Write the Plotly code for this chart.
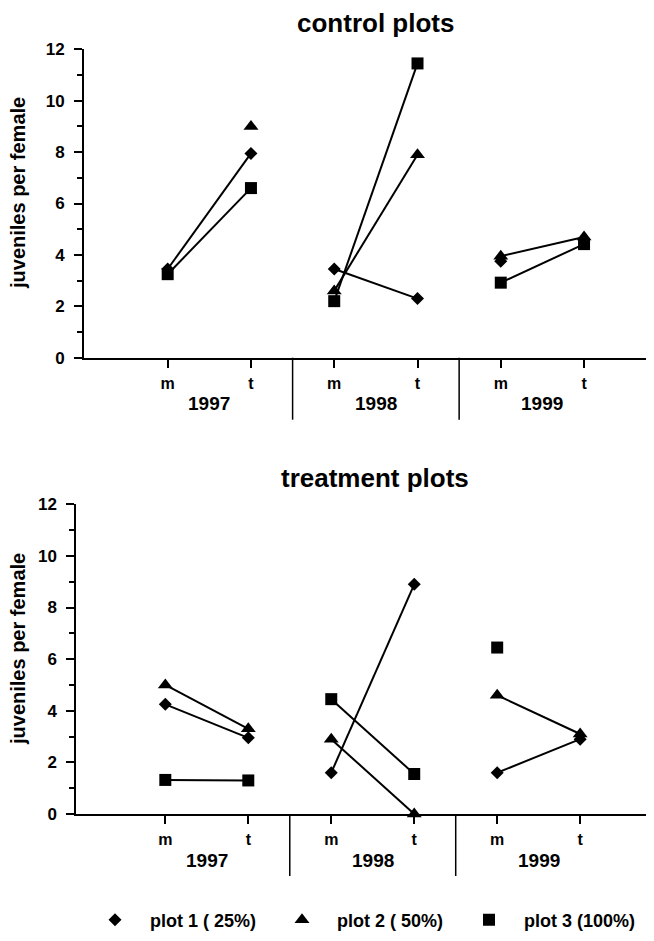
import plotly.graph_objects as go

# ---- data ----
stages = ["m", "t", "m", "t", "m", "t"]
years = ["1997", "1998", "1999"]
series_names = ["plot 1 ( 25%)", "plot 2 ( 50%)", "plot 3 (100%)"]

control_plot1 = [3.45, 7.95, 3.45, 2.3, 3.75, None]
control_plot2 = [None, 9.0, 2.6, 7.9, 3.95, 4.7]
control_plot3 = [3.25, 6.6, 2.2, 11.45, 2.92, 4.42]

treatment_plot1 = [4.25, 2.95, 1.6, 8.9, 1.6, 2.9]
treatment_plot2 = [5.0, 3.3, 2.9, 0.0, 4.6, 3.1]
treatment_plot3 = [1.32, 1.3, 4.45, 1.55, 6.45, None]

# ---- styling ----
FONT = "Liberation Sans, Arial, Helvetica, sans-serif"
symbols = ["diamond", "triangle-up", "square"]
msizes = [10, 13, 12]
OFF = 8                      # page body margin
W, H = 654 - OFF, 941 - OFF  # figure size so it fills the window
positions = list(range(1, len(stages) + 1))


def with_gaps(vals):
    xs, ys = [], []
    for i in range(0, len(vals), 2):
        xs += [positions[i], positions[i + 1], None]
        ys += [vals[i], vals[i + 1], None]
    return xs, ys


def px_x(p):
    return (p - OFF) / W


def px_y(p):
    return 1 - (p - OFF) / H


fig = go.Figure()
charts = [
    ("x", "y", [control_plot1, control_plot2, control_plot3], True),
    ("x2", "y2", [treatment_plot1, treatment_plot2, treatment_plot3], False),
]
for xa, ya, data, show in charts:
    for k, vals in enumerate(data):
        xs, ys = with_gaps(vals)
        fig.add_trace(go.Scatter(
            x=xs, y=ys, xaxis=xa, yaxis=ya, mode="lines",
            line=dict(color="black", width=2), showlegend=False,
            hoverinfo="skip", cliponaxis=False))
    for k, vals in enumerate(data):
        fig.add_trace(go.Scatter(
            x=positions, y=vals, xaxis=xa, yaxis=ya, mode="markers",
            marker=dict(symbol=symbols[k], size=msizes[k], color="black"),
            name="\u00a0\u00a0\u00a0" + series_names[k], legendgroup=series_names[k],
            showlegend=show, cliponaxis=False))


def xaxis_cfg(x0px, rng):
    return dict(
        domain=[px_x(x0px), 1], range=rng, tickvals=positions, ticktext=stages,
        ticks="outside", ticklen=8, tickwidth=2, tickcolor="black",
        showline=True, linewidth=2, linecolor="black", showgrid=False,
        zeroline=False, ticklabelstandoff=2, automargin=False,
        tickfont=dict(family=FONT, size=16, color="black", weight="bold"))


def yaxis_cfg(top_px, bot_px):
    return dict(
        domain=[px_y(bot_px), px_y(top_px)], range=[0, 12], tick0=0, dtick=2,
        ticks="outside", ticklen=8, tickwidth=2, tickcolor="black",
        minor=dict(dtick=1, ticks="outside", ticklen=5, tickwidth=2, tickcolor="black"),
        showline=True, linewidth=2, linecolor="black", showgrid=False,
        zeroline=False, ticklabelstandoff=6, automargin=False,
        tickfont=dict(family=FONT, size=17, color="black", weight="bold"))


top_axis_px, top_top_px = 357.7, 49.3
bot_axis_px, bot_top_px = 814.0, 504.3

fig.update_layout(
    width=W, height=H, margin=dict(l=0, r=0, t=0, b=0, pad=0, autoexpand=False),
    paper_bgcolor="white", plot_bgcolor="white",
    xaxis=xaxis_cfg(84, [-0.005, 6.84]),
    yaxis=yaxis_cfg(top_top_px, top_axis_px),
    xaxis2=dict(xaxis_cfg(76.3, [-0.073, 6.89]), anchor="y2"),
    yaxis2=dict(yaxis_cfg(bot_top_px, bot_axis_px), anchor="x2"),
    showlegend=True,
    legend=dict(orientation="h", x=px_x(95), xanchor="left", y=px_y(920), yanchor="middle",
                font=dict(family=FONT, size=18, color="black", weight="bold"),
                entrywidth=142, entrywidthmode="pixels", itemclick=False,
                bgcolor="rgba(0,0,0,0)"),
)

annotations = []
shapes = []
for xa, axis_px, title, title_px, ytitle_px in [
    ("x", top_axis_px, "control plots", 23, 193),
    ("x2", bot_axis_px, "treatment plots", 478, 649),
]:
    annotations.append(dict(text=title, xref="paper", yref="paper", x=px_x(375), y=px_y(title_px),
                            showarrow=False, xanchor="center", yanchor="middle",
                            font=dict(family=FONT, size=26, color="black", weight="bold")))
    annotations.append(dict(text="juveniles per female", xref="paper", yref="paper",
                            x=px_x(18), y=px_y(ytitle_px), textangle=-90, showarrow=False,
                            xanchor="center", yanchor="middle",
                            font=dict(family=FONT, size=20, color="black", weight="bold")))
    for i, yr in enumerate(years):
        annotations.append(dict(text=yr, xref=xa, yref="paper",
                                x=(positions[2 * i] + positions[2 * i + 1]) / 2,
                                y=px_y(axis_px + 46), showarrow=False,
                                xanchor="center", yanchor="middle",
                                font=dict(family=FONT, size=19, color="black", weight="bold")))
    for i in range(1, len(years)):
        sep = (positions[2 * i - 1] + positions[2 * i]) / 2
        shapes.append(dict(type="line", xref=xa, yref="paper", x0=sep, x1=sep,
                           y0=px_y(axis_px), y1=px_y(axis_px + 62),
                           line=dict(color="black", width=1.5)))

fig.update_layout(annotations=annotations, shapes=shapes)
fig.write_html("out.html")
